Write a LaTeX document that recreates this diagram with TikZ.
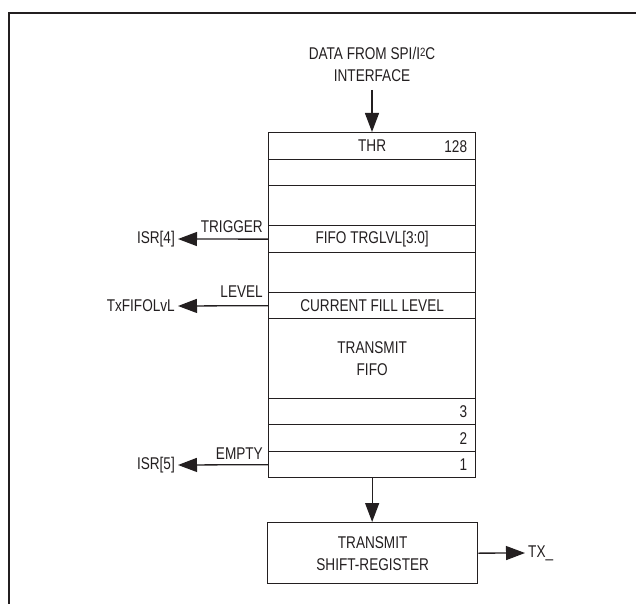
\documentclass[tikz,border=0pt]{standalone}
\usepackage{fontspec}
\setmainfont{Liberation Sans}[FakeStretch=0.8]
\usetikzlibrary{arrows.meta}
\definecolor{ink}{HTML}{231F20}
\tikzset{
  every node/.style={font=\fontsize{17}{22}\selectfont, text=ink},
  rowbox/.style={draw=ink, line width=1.3pt, minimum width=207pt, minimum height=#1, anchor=north west, inner sep=0pt},
  plain/.style={inner sep=0pt},
  arr/.style={draw=ink, line width=1.3pt, -{Triangle[length=19pt,width=14pt]}},
}
\begin{document}
\begin{tikzpicture}[x=1pt,y=-1pt]
\useasboundingbox (0,0) rectangle (637,604);
% frame
\draw[ink, line width=2pt] (9,604) -- (9,13) -- (636,13);
% source
\node[plain, align=center, anchor=north] (src) at (372,47) {DATA FROM SPI/I\raisebox{0.35ex}{\fontsize{12}{12}\selectfont 2}C\\INTERFACE};
% FIFO rows
\node[rowbox=27pt] (thr) at (268,132) {THR};
\node[rowbox=26pt] (e1) at (268,159) {};
\node[rowbox=40pt] (e2) at (268,185) {};
\node[rowbox=27pt] (trg) at (268,225) {FIFO TRGLVL[3:0]};
\node[rowbox=40pt] (e3) at (268,252) {};
\node[rowbox=26pt] (lvl) at (268,292) {CURRENT FILL LEVEL};
\node[rowbox=80pt, align=center] (fifo) at (268,318) {TRANSMIT\\FIFO};
\node[rowbox=26pt] (r3) at (268,398) {};
\node[rowbox=27pt] (r2) at (268,424) {};
\node[rowbox=26pt] (r1) at (268,451) {};
\node[plain, anchor=east] (n128) at ([xshift=-9pt]thr.east) {128};
\node[plain, anchor=east] (n3) at ([xshift=-9pt]r3.east) {3};
\node[plain, anchor=east] (n2) at ([xshift=-9pt]r2.east) {2};
\node[plain, anchor=east] (n1) at ([xshift=-9pt]r1.east) {1};
% shift register
\node[draw=ink, line width=1.3pt, minimum width=210pt, minimum height=61pt, anchor=north west, align=center, inner sep=0pt] (tsr) at (267,522) {TRANSMIT\\SHIFT-REGISTER};
% outputs
\node[inner sep=3pt, anchor=east] (isr4) at (178,239) {ISR[4]};
\node[inner sep=3pt, anchor=east] (txlvl) at (178,306) {TxFIFOLvL};
\node[inner sep=3pt, anchor=east] (isr5) at (178,465) {ISR[5]};
\node[inner sep=3pt, anchor=west] (tx) at (525,553) {TX\_};
% side labels
\node[plain, anchor=base east] (ltrig) at (263,233) {TRIGGER};
\node[plain, anchor=base east] (llvl) at (263,297) {LEVEL};
\node[plain, anchor=base east] (lempty) at (263,459) {EMPTY};
% connectors
\draw[arr] (src.south |- 0,90) -- (thr.north -| src.south);
\draw[arr] (trg.west) -- (isr4.east);
\draw[arr] (lvl.west) -- (txlvl.east);
\draw[arr] (r1.west) -- (isr5.east);
\draw[arr] (r1.south) -- (tsr.north -| r1.south);
\draw[arr] (tsr.east) -- (tx.west);
\end{tikzpicture}
\end{document}
